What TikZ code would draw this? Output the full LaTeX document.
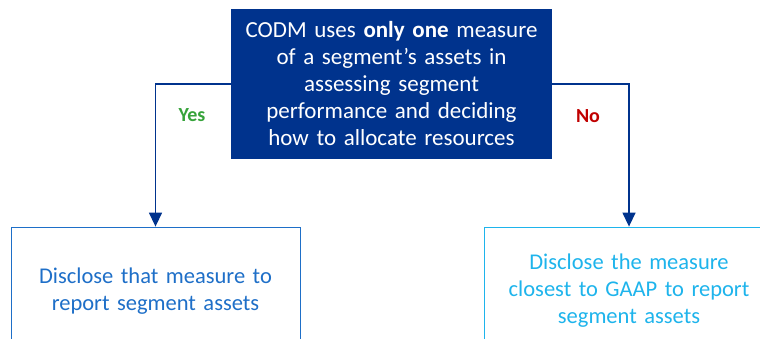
\documentclass[tikz,border=0pt]{standalone}
\usepackage{fontspec}
\setmainfont{Carlito}
\usetikzlibrary{arrows.meta}
\definecolor{kblue}{HTML}{00338D}
\definecolor{mblue}{HTML}{1E6FC8}
\definecolor{cblue}{HTML}{1EB4EC}
\definecolor{ygreen}{HTML}{36A33A}
\definecolor{nred}{HTML}{C00000}
\tikzset{
  txt/.style={font=\fontsize{22.5}{27}\selectfont, align=center},
  topbox/.style={txt, font=\fontsize{23}{27}\selectfont, fill=kblue, text=white, inner sep=0pt, minimum width=321pt, minimum height=150pt, text width=316pt},
  outbox/.style={txt, draw, line width=0.8pt, fill=white, inner sep=0pt, text width=285pt},
  conn/.style={kblue, line width=1.4pt, -{Triangle[width=13pt,length=14pt]}},
  lbl/.style={font=\fontsize{20}{22}\selectfont\bfseries}
}
\begin{document}
\begin{tikzpicture}[x=1pt,y=-1pt]
\useasboundingbox (0,0) rectangle (760,339);
\node[topbox] (q) at (391.5,84) {CODM uses \textbf{only one} measure\\of a segment’s assets in\\assessing segment\\performance and deciding\\how to allocate resources};
\node[outbox, draw=mblue, text=mblue, minimum width=289pt, minimum height=128pt] (yes) at (155.5,291) {Disclose that measure to\\report segment assets};
\node[outbox, draw=cblue, text=cblue, minimum width=290pt, minimum height=128pt] (no) at (629,291) {Disclose the measure\\closest to GAAP to report\\segment assets};
\draw[conn] (q.west) -| (yes.north);
\draw[conn] (q.east) -| (no.north);
\node[lbl, text=ygreen] (ly) at (192,115) {Yes};
\node[lbl, text=nred] (ln) at (588,116) {No};
\end{tikzpicture}
\end{document}
